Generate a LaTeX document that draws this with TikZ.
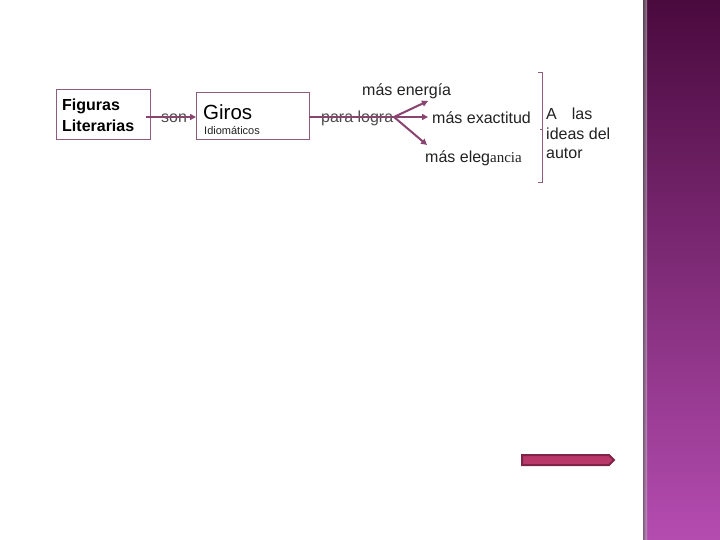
\documentclass[tikz,border=0pt]{standalone}
\usepackage{fontspec}
\setmainfont{Liberation Sans}
\newfontfamily\serifx{Liberation Serif}
\usetikzlibrary{arrows.meta}
\definecolor{lnk}{HTML}{8A4470}
\definecolor{bx}{HTML}{8E5C7E}
\definecolor{txt}{HTML}{222222}
\definecolor{ptop}{HTML}{4A0A3E}
\definecolor{pbot}{HTML}{B44CB0}
\definecolor{arfill}{HTML}{B8386A}
\definecolor{arline}{HTML}{7E2448}
\tikzset{
  lbl/.style={text=txt, inner sep=0pt, font=\fontsize{16}{18}\selectfont},
  conn/.style={draw=lnk, line width=2pt, -{Triangle[length=6pt,width=6pt]}},
  plain/.style={draw=lnk, line width=1.2pt},
}
\begin{document}
\begin{tikzpicture}[x=1pt,y=-1pt]
\useasboundingbox (0,0) rectangle (720,540);
\fill[white] (0,0) rectangle (720,540);
% right panel
\shade[top color=ptop, bottom color=pbot] (643,0) rectangle (720,540);
\shade[left color=black!60, right color=black!20, opacity=0.6] (643,0) rectangle (647,540);
% boxes
\draw[bx, line width=1pt] (56,90) rectangle (150,140);
\node[lbl, anchor=west, align=left, font=\fontsize{16}{21}\selectfont\bfseries, text=black] (fig) at (62,115) {Figuras\\Literarias};
\coordinate (figr) at (146,117);
\draw[bx, line width=1pt] (196,93) rectangle (309,140);
\coordinate (girl) at (196,117);
\coordinate (girr) at (309,117);
\node[lbl, anchor=west, font=\fontsize{20.5}{23}\selectfont, text=black] (giros) at (203,112) {Giros};
\node[lbl, anchor=west, font=\fontsize{11}{12}\selectfont] (idio) at (204,131) {Idiomáticos};
% son
\node[lbl, anchor=west, text=black!70] (son) at (161,118) {son};
\draw[conn] (figr) -- (girl);
% para lograr
\node[lbl, anchor=west, text=black!70] (para) at (321,118) {para logra};
\coordinate (fork) at (394,117);
\draw[plain] (girr) -- (fork);
\coordinate (e1) at (428,101);
\coordinate (e2) at (428,117);
\coordinate (e3) at (427,145);
\draw[conn] (fork) -- (e1);
\draw[conn] (fork) -- (e2);
\draw[conn] (fork) -- (e3);
\node[lbl, anchor=west] (ener) at (362,91) {más energía};
\node[lbl, anchor=west] (exac) at (432,118) {más exactitud};
\node[lbl, anchor=west] (eleg) at (425,158) {más eleg{\serifx\fontsize{15}{17}\selectfont ancia}};
% bracket
\draw[bx, line width=1pt] (538,73) -- (542,73) -- (542,183) -- (538,183);
\draw[bx, line width=1pt] (542,130) -- (540,130);
\node[lbl, anchor=north west, align=left, font=\fontsize{16}{19.5}\selectfont] (ideas) at (546,108) {A\hspace{15pt}las\\ideas del\\autor};
% bottom arrow shape
\draw[fill=arfill, draw=arline, line width=2pt] (522,455) -- (609,455) -- (614,460) -- (609,465) -- (522,465) -- cycle;
\end{tikzpicture}
\end{document}
